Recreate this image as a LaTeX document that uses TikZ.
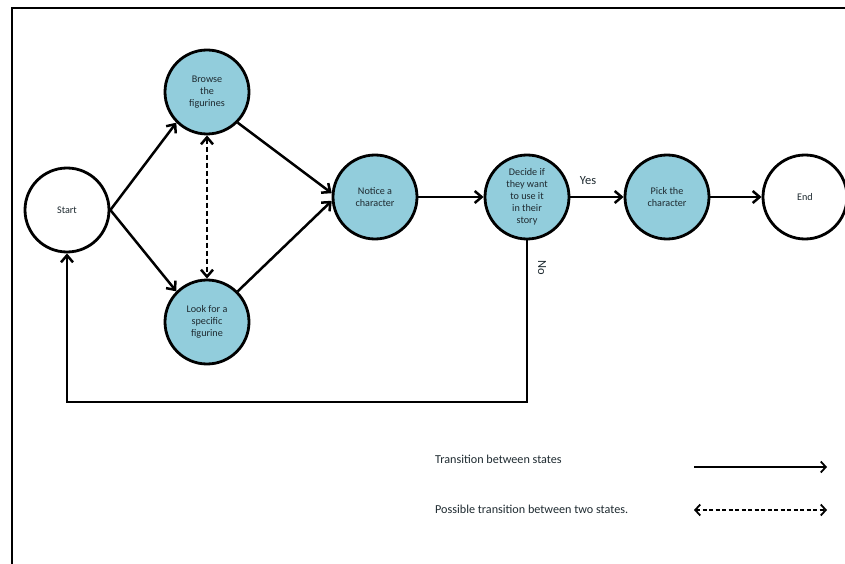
\documentclass[tikz,border=0pt]{standalone}
\usepackage{fontspec}
\setmainfont{Carlito}
\usetikzlibrary{arrows.meta}
\definecolor{aqua}{HTML}{92CDDC}
\definecolor{txt}{HTML}{1E2A30}
\tikzset{
  x=1bp, y=-1bp,
  tipA/.tip={Straight Barb[length=7bp,width=12bp,line width=2.5bp]},
  tipB/.tip={Straight Barb[length=5bp,width=11bp,line width=1.8bp]},
  state/.style={circle, draw=black, line width=2.8bp, minimum size=84bp, inner sep=0pt,
    align=center, text=txt, font=\fontsize{10.2}{12}\selectfont},
  active/.style={state, fill=aqua},
  plain/.style={state, fill=white},
  trans/.style={line width=2.5bp, -tipA},
  maybe/.style={line width=2.5bp, dash pattern=on 5bp off 3bp, tipA-tipA},
  legtrans/.style={line width=1.8bp, -tipB},
  legmaybe/.style={line width=1.8bp, dash pattern=on 4bp off 2.5bp, tipB-tipB},
  legtext/.style={anchor=west, inner sep=0pt, text=txt, font=\fontsize{12.2}{14}\selectfont},
  lbl/.style={inner sep=0pt, text=txt, font=\fontsize{12.5}{14}\selectfont}
}
\begin{document}
\begin{tikzpicture}
\useasboundingbox (0,0) rectangle (845,564);
\draw[line width=2.5bp] (12,8) rectangle (860,580);
\node[plain]  (start)  at (67,210)  {Start};
\node[active] (browse) at (207,92)  {Browse\\the\\figurines};
\node[active] (look)   at (207,322) {Look for a\\specific\\figurine};
\node[active] (notice) at (375,197) {Notice a\\character};
\node[active] (decide) at (527,197) {Decide if\\they want\\to use it\\in their\\story};
\node[active] (pick)   at (667,197) {Pick the\\character};
\node[plain]  (end)    at (805,197) {End};

\draw[trans] (start.east) -- (browse.225);
\draw[trans] (start.east) -- (look.135);
\draw[trans] (browse.-45) -- (notice.175);
\draw[trans] (look.45) -- (notice.185);
\draw[maybe] (browse.south) -- (look.north);
\draw[trans] (notice.east) -- (decide.west);
\draw[trans] (decide.east) -- (pick.west);
\draw[trans] (pick.east) -- (end.west);
\coordinate (fb) at (0,402);
\draw[trans] (decide.south) -- (decide.south |- fb) -| (start.south);
\node[lbl] (yes) at (588,181) {Yes};
\node[lbl, rotate=-90] (no) at (542,268) {No};

\node[legtext] (lt1) at (435,459) {Transition between states};
\node[legtext] (lt2) at (435,509) {Possible transition between two states.};
\coordinate (la1) at (694,467);
\coordinate (lb1) at (827,467);
\coordinate (la2) at (694,510);
\coordinate (lb2) at (827,510);
\draw[legtrans] (la1) -- (lb1);
\draw[legmaybe] (la2) -- (lb2);
\end{tikzpicture}
\end{document}
